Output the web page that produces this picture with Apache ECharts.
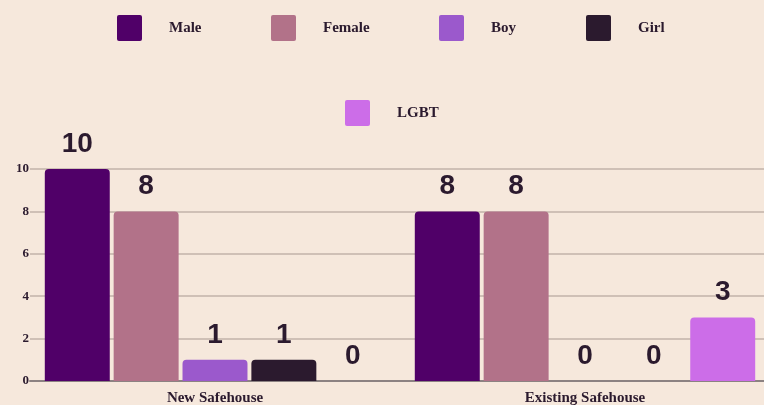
<!DOCTYPE html>
<html>
<head>
<meta charset="utf-8">
<style>
  html, body { margin: 0; padding: 0; background: #f6e8dc; }
  #main { width: 764px; height: 405px; }
</style>
<script src="https://cdn.jsdelivr.net/npm/echarts@6/dist/echarts.min.js"></script>
</head>
<body>
<div id="main"></div>
<script>
// 数据
var categories = ['New Safehouse', 'Existing Safehouse'];
var seriesNames = ['Male', 'Female', 'Boy', 'Girl', 'LGBT'];
var maleData = [10, 8];
var femaleData = [8, 8];
var boyData = [1, 0];
var girlData = [1, 0];
var lgbtData = [0, 3];
var yTicks = [0, 2, 4, 6, 8, 10];

var colors = ['#500068', '#b27289', '#9b59cc', '#2b1a2e', '#cc6de8'];
var allData = [maleData, femaleData, boyData, girlData, lgbtData];
var serifFont = '"Liberation Serif", "DejaVu Serif", serif';
var darkText = '#2b1a2e';

var myChart = echarts.init(document.getElementById('main'));

// 图例图标: 小圆角方块
var legendIcon = 'path://M2,0 H23 Q25,0 25,2 V24 Q25,26 23,26 H2 Q0,26 0,24 V2 Q0,0 2,0 Z';
// 图例位置 (每项单独摆放, legend 自带 5px padding)
var legendPos = [[112, 10], [266, 10], [434, 10], [581, 10], [340, 95]];
var legends = seriesNames.map(function(name, i) {
	return {
		data: [name],
		left: legendPos[i][0],
		top: legendPos[i][1],
		icon: legendIcon,
		itemWidth: 25,
		itemHeight: 26,
		selectedMode: false,
		textStyle: {
			fontFamily: serifFont,
			fontWeight: 'bold',
			fontSize: 15,
			color: darkText,
			padding: [0, 0, 0, 22]
		}
	};
});

var series = seriesNames.map(function(name, i) {
	return {
		name: name,
		type: 'bar',
		data: allData[i],
		barGap: '6%',
		barCategoryGap: '8%',
		itemStyle: {
			color: colors[i],
			borderRadius: [4, 4, 0, 0]
		},
		label: {
			show: true,
			position: 'top',
			distance: 11,
			fontFamily: '"Liberation Sans", Arial, sans-serif',
			fontWeight: 'bold',
			fontSize: 28,
			color: darkText
		}
	};
});

var option = {
	backgroundColor: '#f6e8dc',
	color: colors,
	legend: legends,
	grid: {
		left: 30,
		width: 740,
		top: 169,
		bottom: 24,
		containLabel: false,
		outerBoundsMode: 'none'
	},
	xAxis: {
		type: 'category',
		data: categories,
		axisTick: { show: false },
		axisLine: { lineStyle: { color: '#8c8282', width: 2 } },
		axisLabel: {
			fontFamily: serifFont,
			fontWeight: 'bold',
			fontSize: 15,
			color: darkText,
			margin: 10
		}
	},
	yAxis: {
		type: 'value',
		min: yTicks[0],
		max: yTicks[yTicks.length - 1],
		interval: 2,
		axisLine: { show: false },
		axisTick: { show: false },
		splitLine: { lineStyle: { color: '#c2b3aa', width: 1.5 } },
		axisLabel: {
			fontFamily: serifFont,
			fontWeight: 'bold',
			fontSize: 13,
			color: darkText,
			margin: 1
		}
	},
	series: series
};

myChart.setOption(option);
</script>
</body>
</html>
